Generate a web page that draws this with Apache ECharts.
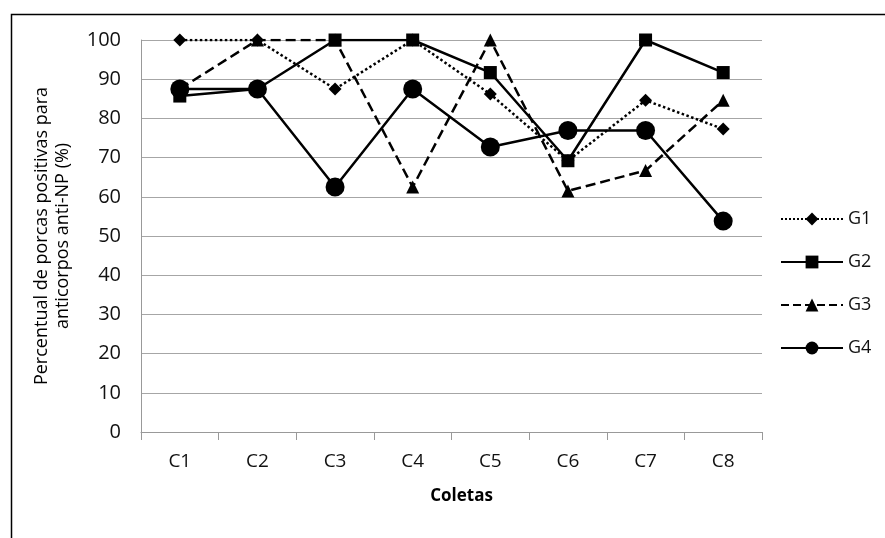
<!DOCTYPE html>
<html>
<head>
<meta charset="utf-8">
<script src="https://cdn.jsdelivr.net/npm/echarts@6/dist/echarts.min.js"></script>
<style>html,body{margin:0;padding:0;background:#fff}#chart{width:885px;height:538px}</style>
</head>
<body>
<div id="chart"></div>
<script>
const categories = ['C1', 'C2', 'C3', 'C4', 'C5', 'C6', 'C7', 'C8'];
const g1 = [100, 100, 87.5, 100, 86.2, 69.2, 84.6, 77.3];
const g2 = [85.7, 87.5, 100, 100, 91.7, 69.2, 100, 91.7];
const g3 = [87.5, 100, 100, 62.5, 100, 61.5, 66.7, 84.6];
const g4 = [87.5, 87.5, 62.5, 87.5, 72.7, 76.9, 76.9, 53.8];
const yTicks = [0, 10, 20, 30, 40, 50, 60, 70, 80, 90, 100];

const font = '"Open Sans", Lato, sans-serif';
const chart = echarts.init(document.getElementById('chart'));

function series(name, data, symbol, size, type) {
  return {
    name, type: 'line', data, symbol, symbolSize: size,
    lineStyle: { color: '#000', width: 2.5, type },
    itemStyle: { color: '#000' },
    emphasis: { disabled: true },
    animation: false
  };
}

chart.setOption({
  animation: false,
  graphic: [{
    type: 'rect', left: 9, top: 12,
    shape: { width: 900, height: 600 },
    style: { fill: 'none', stroke: '#000', lineWidth: 1.5 }
  }],
  grid: { left: 141, right: 123, top: 40, bottom: 106 },
  legend: {
    orient: 'vertical', left: 775, top: 205,
    itemWidth: 62, itemHeight: 16, itemGap: 25,
    textStyle: { fontFamily: font, fontSize: 18, color: '#111' },
    data: ['G1', 'G2', 'G3', 'G4']
  },
  xAxis: {
    type: 'category', data: categories, boundaryGap: true,
    axisLine: { lineStyle: { color: '#999' } },
    axisTick: { show: true, length: 8, lineStyle: { color: '#999' }, alignWithLabel: false },
    axisLabel: { fontFamily: font, fontSize: 19, color: '#111', margin: 20 },
    name: 'Coletas', nameLocation: 'middle', nameGap: 56,
    nameTextStyle: { fontFamily: font, fontSize: 17, fontWeight: 'bold', color: '#000', padding: [0, 0, 0, 20] }
  },
  yAxis: {
    type: 'value', min: yTicks[0], max: yTicks[yTicks.length - 1], interval: 10,
    axisLine: { show: true, lineStyle: { color: '#999' } },
    axisTick: { show: false },
    splitLine: { lineStyle: { color: '#a6a6a6', width: 1.2 } },
    axisLabel: { fontFamily: font, fontSize: 20, color: '#111', margin: 20 },
    name: 'Percentual de porcas positivas para\nanticorpos anti-NP (%)',
    nameLocation: 'middle', nameGap: 68,
    nameTextStyle: { fontFamily: font, fontSize: 18, color: '#000', lineHeight: 21 }
  },
  series: [
    series('G1', g1, 'diamond', 13, 'dotted'),
    series('G2', g2, 'rect', 13, 'solid'),
    series('G3', g3, 'triangle', 13, 'dashed'),
    series('G4', g4, 'circle', 19, 'solid')
  ]
});
</script>
</body>
</html>
